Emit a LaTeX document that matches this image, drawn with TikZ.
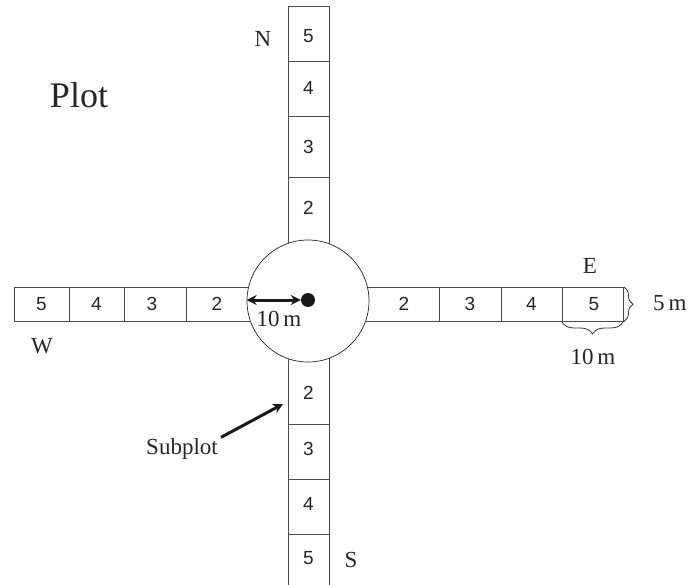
\documentclass[tikz,border=0pt]{standalone}
\usepackage{fontspec}
\setmainfont{Liberation Serif}
\newfontfamily\numfont{Liberation Sans}
\usetikzlibrary{decorations.pathreplacing,arrows.meta}
\begin{document}
\begin{tikzpicture}[x=1pt,y=-1pt,
  strip/.style={draw=black!70, line width=0.9pt},
  num/.style={font=\numfont\fontsize{19}{19}\selectfont, text=black!85, inner sep=0},
  lab/.style={font=\fontsize{23}{23}\selectfont, text=black!85, inner sep=0},
  bigarrow/.style={line width=3pt, black!90},
  bracestyle/.style={draw=black!80, line width=0.8pt, decorate}
]
\useasboundingbox (0,0) rectangle (693,585);
% strips
\draw[strip] (288.5,6) rectangle (329,300);
\foreach \y in {61,116,177} \draw[strip] (288.5,\y) -- (329,\y);
\draw[strip] (288.5,300) -- (288.5,585) (329,300) -- (329,585);
\foreach \y in {424,479,534} \draw[strip] (288.5,\y) -- (329,\y);
\draw[strip] (14,287) rectangle (308,321.5);
\foreach \x in {69,124,186} \draw[strip] (\x,287) -- (\x,321.5);
\draw[strip] (308,287) rectangle (623,321.5);
\foreach \x in {439,501,562} \draw[strip] (\x,287) -- (\x,321.5);
% circle
\node[circle, draw=black!85, line width=0.7pt, fill=white, minimum size=122pt, inner sep=0] (c) at (308,301) {};
\node[circle, fill=black!90, minimum size=14pt, inner sep=0] (dot) at (308,300) {};
\draw[bigarrow, {Stealth[length=10pt,width=10pt]}-{Stealth[length=10pt,width=10pt]}] (c.west |- dot) -- (dot.west);
\node[lab] (r10) at (279,319) {10\,m};
% numbers N
\node[num] (n5) at (308.5,36) {5};
\node[num] (n4) at (308.5,88) {4};
\node[num] (n3) at (308.5,147) {3};
\node[num] (n2) at (308.5,208) {2};
% numbers S
\node[num] (s2) at (308.5,393) {2};
\node[num] (s3) at (308.5,449) {3};
\node[num] (s4) at (308.5,504) {4};
\node[num] (s5) at (308.5,558) {5};
% numbers W
\node[num] (w5) at (41.5,304) {5};
\node[num] (w4) at (96.5,304) {4};
\node[num] (w3) at (152,304) {3};
\node[num] (w2) at (217,304) {2};
% numbers E
\node[num] (e2) at (404,304) {2};
\node[num] (e3) at (470,304) {3};
\node[num] (e4) at (531.5,304) {4};
\node[num] (e5) at (594,304) {5};
% direction labels
\node[lab] (lN) at (263,39) {N};
\node[lab] (lE) at (590,266) {E};
\node[lab] (lW) at (42,346) {W};
\node[lab] (lS) at (351,560) {S};
\node[font=\fontsize{36}{36}\selectfont, text=black!85, inner sep=0] (plot) at (79,95) {Plot};
% braces
\draw[bracestyle, decoration={brace, amplitude=9pt}] (624,287) -- (624,321.5);
\node[lab, anchor=west] (l5m) at (653,303) {5\,m};
\draw[bracestyle, decoration={brace, amplitude=12pt}] (623,322) -- (562,322);
\node[lab] (l10m) at (593,357) {10\,m};
% subplot
\node[lab] (sub) at (182,449) {Subplot};
\coordinate (tip) at (283,404);
\draw[bigarrow, -{Stealth[length=10pt,width=10pt]}] ([shift={(3,-1)}]sub.north east) -- (tip);
\end{tikzpicture}
\end{document}
